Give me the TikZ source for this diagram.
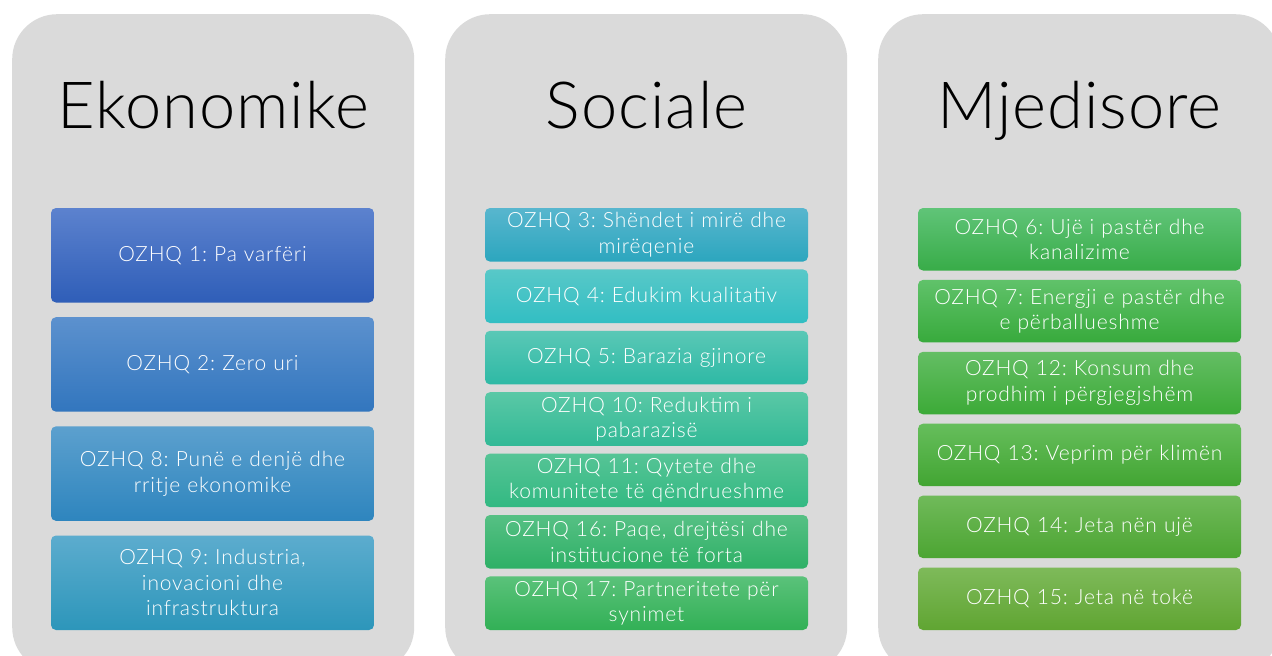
\documentclass[tikz,border=0pt]{standalone}
\usepackage{fontspec}
\setmainfont{Lato}[UprightFont=* Light]
\frenchspacing
\definecolor{panelgray}{RGB}{218,218,218}
\definecolor{aTa}{RGB}{92,130,206}\definecolor{aBa}{RGB}{47,94,184}
\definecolor{aTb}{RGB}{92,145,206}\definecolor{aBb}{RGB}{50,118,190}
\definecolor{aTc}{RGB}{92,160,206}\definecolor{aBc}{RGB}{46,133,190}
\definecolor{aTd}{RGB}{92,172,206}\definecolor{aBd}{RGB}{45,150,186}
\definecolor{bTa}{RGB}{88,182,206}\definecolor{bBa}{RGB}{44,166,190}
\definecolor{bTb}{RGB}{88,200,200}\definecolor{bBb}{RGB}{50,190,195}
\definecolor{bTc}{RGB}{90,200,182}\definecolor{bBc}{RGB}{46,185,165}
\definecolor{bTd}{RGB}{90,200,166}\definecolor{bBd}{RGB}{50,185,150}
\definecolor{bTe}{RGB}{86,196,150}\definecolor{bBe}{RGB}{50,185,130}
\definecolor{bTf}{RGB}{86,192,132}\definecolor{bBf}{RGB}{46,176,102}
\definecolor{bTg}{RGB}{90,194,122}\definecolor{bBg}{RGB}{50,176,86}
\definecolor{cTa}{RGB}{96,196,120}\definecolor{cBa}{RGB}{56,172,72}
\definecolor{cTb}{RGB}{96,194,106}\definecolor{cBb}{RGB}{56,170,60}
\definecolor{cTc}{RGB}{100,190,100}\definecolor{cBc}{RGB}{60,170,55}
\definecolor{cTd}{RGB}{102,190,92}\definecolor{cBd}{RGB}{66,165,50}
\definecolor{cTe}{RGB}{112,186,90}\definecolor{cBe}{RGB}{76,165,50}
\definecolor{cTf}{RGB}{126,186,90}\definecolor{cBf}{RGB}{96,165,50}
\begin{document}
\begin{tikzpicture}[x=1pt,y=1pt,
  panel/.style={fill=panelgray, rounded corners=45pt, minimum width=402pt,
    minimum height=658pt, inner sep=0pt, anchor=north west},
  coltitle/.style={font=\fontsize{65}{72}\selectfont\addfontfeatures{LetterSpace=1.5}, anchor=base, text=black, inner sep=0pt},
  goalbox/.style={rounded corners=5pt, minimum width=323pt, inner sep=0pt,
    text=white, align=center, font=\fontsize{21}{25.5}\selectfont\addfontfeatures{LetterSpace=4}, text width=320pt},
  tall/.style={goalbox, minimum height=94.5pt},
  short/.style={goalbox, minimum height=53.6pt},
  mid/.style={goalbox, minimum height=62.5pt},
]
\useasboundingbox (0,0) rectangle (1272,-656);
\clip (0,0) rectangle (1272,-656);
\node[panel] (p1) at (12,-14) {};
\node[panel] (p2) at (445,-14) {};
\node[panel] (p3) at (878,-14) {};
\node[coltitle] (t1) at (213,-128) {Ekonomike};
\node[coltitle] (t2) at (646.5,-128) {Sociale};
\node[coltitle] (t3) at (1079.5,-128) {Mjedisore};
% Ekonomike
\node[tall, top color=aTa, bottom color=aBa] (g1) at (212.5,-255.25) {OZHQ 1: Pa varfëri};
\node[tall, top color=aTb, bottom color=aBb] (g2) at (212.5,-364.4) {OZHQ 2: Zero uri};
\node[tall, top color=aTc, bottom color=aBc] (g8) at (212.5,-473.6) {OZHQ 8: Punë e denjë dhe\\rritje ekonomike};
\node[tall, top color=aTd, bottom color=aBd] (g9) at (212.5,-582.75) {OZHQ 9: Industria,\\inovacioni dhe\\infrastruktura};
% Sociale
\node[short, top color=bTa, bottom color=bBa] (g3) at (646.5,-234.8) {OZHQ 3: Shëndet i mirë dhe\\mirëqenie};
\node[short, top color=bTb, bottom color=bBb] (g4) at (646.5,-296.2) {OZHQ 4: Edukim kualitativ};
\node[short, top color=bTc, bottom color=bBc] (g5) at (646.5,-357.6) {OZHQ 5: Barazia gjinore};
\node[short, top color=bTd, bottom color=bBd] (g10) at (646.5,-419) {OZHQ 10: Reduktim i\\pabarazisë};
\node[short, top color=bTe, bottom color=bBe] (g11) at (646.5,-480.4) {OZHQ 11: Qytete dhe\\komunitete të qëndrueshme};
\node[short, top color=bTf, bottom color=bBf] (g16) at (646.5,-541.8) {OZHQ 16: Paqe, drejtësi dhe\\institucione të forta};
\node[short, top color=bTg, bottom color=bBg] (g17) at (646.5,-603.2) {OZHQ 17: Partneritete për\\synimet};
% Mjedisore
\node[mid, top color=cTa, bottom color=cBa] (g6) at (1079.5,-239.25) {OZHQ 6: Ujë i pastër dhe\\kanalizime};
\node[mid, top color=cTb, bottom color=cBb] (g7) at (1079.5,-311.15) {OZHQ 7: Energji e pastër dhe\\e përballueshme};
\node[mid, top color=cTc, bottom color=cBc] (g12) at (1079.5,-383.05) {OZHQ 12: Konsum dhe\\prodhim i përgjegjshëm};
\node[mid, top color=cTd, bottom color=cBd] (g13) at (1079.5,-454.95) {OZHQ 13: Veprim për klimën};
\node[mid, top color=cTe, bottom color=cBe] (g14) at (1079.5,-526.85) {OZHQ 14: Jeta nën ujë};
\node[mid, top color=cTf, bottom color=cBf] (g15) at (1079.5,-598.75) {OZHQ 15: Jeta në tokë};
\end{tikzpicture}
\end{document}
